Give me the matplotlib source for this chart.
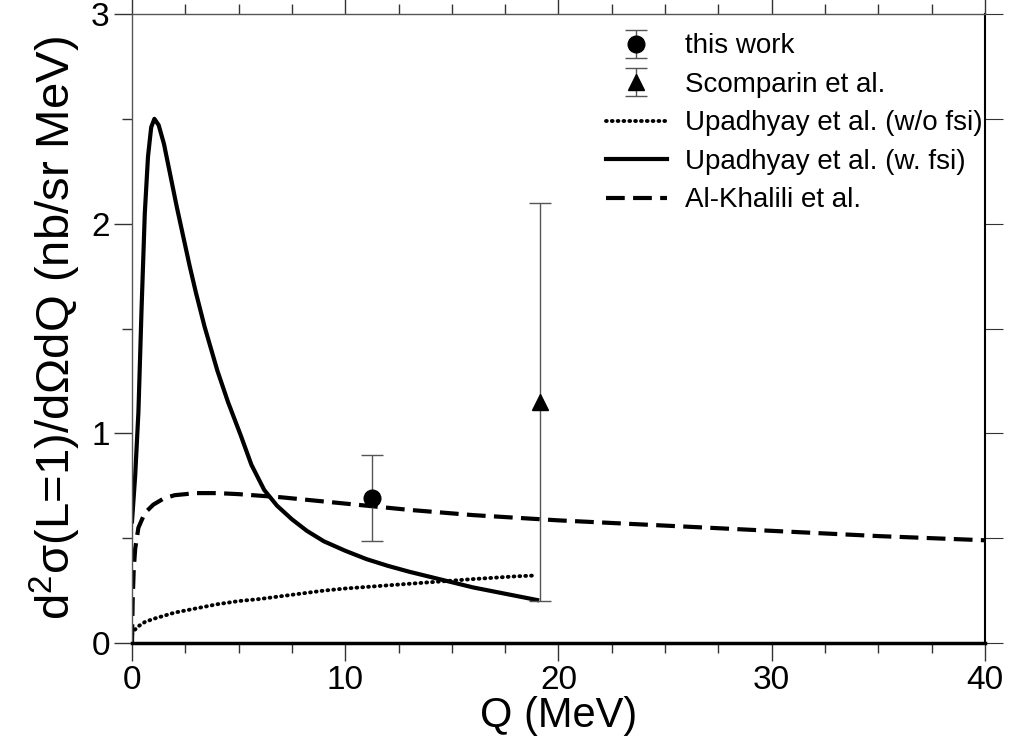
import matplotlib
matplotlib.use("Agg")
import matplotlib.pyplot as plt
from matplotlib.ticker import MultipleLocator

plt.rcParams['font.family'] = ['Liberation Sans', 'DejaVu Sans']

# data
q_fsi = [0.0, 0.15, 0.3, 0.45, 0.6, 0.75, 0.9, 1.05, 1.25, 1.5, 1.8, 2.1, 2.4, 2.7, 3.0,
         3.4, 4.0, 4.5, 5.1, 5.6, 6.2, 6.8, 7.5, 8.2, 9.0, 10.0, 11.0, 12.0, 13.0, 14.0,
         15.0, 16.0, 17.0, 18.0, 19.0]
s_fsi = [0.58, 0.8, 1.1, 1.6, 2.05, 2.32, 2.46, 2.5, 2.47, 2.38, 2.23, 2.08, 1.94, 1.8,
         1.67, 1.51, 1.3, 1.15, 0.99, 0.85, 0.73, 0.655, 0.59, 0.535, 0.485, 0.44, 0.40,
         0.368, 0.34, 0.315, 0.29, 0.265, 0.245, 0.225, 0.205]

q_nofsi = [0.0, 0.1, 0.3, 0.6, 1.0, 1.5, 2.0, 3.0, 4.0, 5.0, 6.0, 7.5, 9.0, 10.0, 12.0,
           14.0, 16.0, 18.0, 18.9]
s_nofsi = [0.04, 0.06, 0.08, 0.1, 0.115, 0.13, 0.145, 0.165, 0.185, 0.2, 0.21, 0.23,
           0.25, 0.26, 0.275, 0.29, 0.305, 0.318, 0.322]

q_ak = [0.0, 0.03, 0.08, 0.15, 0.3, 0.6, 1.0, 1.5, 2.0, 3.0, 4.0, 5.0, 7.0, 10.0, 13.0,
        16.0, 20.0, 25.0, 30.0, 35.0, 40.0]
s_ak = [0.0, 0.2, 0.35, 0.45, 0.55, 0.62, 0.66, 0.69, 0.705, 0.715, 0.715, 0.71, 0.695,
        0.665, 0.635, 0.61, 0.585, 0.56, 0.535, 0.51, 0.49]

q_this, s_this, e_this = [11.25], [0.69], [0.205]
q_scomp, s_scomp, e_scomp = [19.15], [1.15], [0.95]

fig = plt.figure(figsize=(10.1, 7.49), dpi=100)
ax = fig.add_axes([0.1307, 0.1415, 0.8445, 0.8398])

h1 = ax.errorbar(q_this, s_this, yerr=e_this, fmt='o', color='black', ms=12,
                 ecolor='#555555', elinewidth=1, capsize=8, capthick=1, label='this work', zorder=5)
h2 = ax.errorbar(q_scomp, s_scomp, yerr=e_scomp, fmt='^', color='black', ms=11,
                 ecolor='#555555', elinewidth=1, capsize=8, capthick=1, label='Scomparin et al.', zorder=5)
h3, = ax.plot(q_nofsi, s_nofsi, color='black', lw=2.8, linestyle=(0, (0.2, 1.3)),
              dash_capstyle='round', label='Upadhyay et al. (w/o fsi)')
h4, = ax.plot(q_fsi, s_fsi, color='black', lw=3, label='Upadhyay et al. (w. fsi)')
h5, = ax.plot(q_ak, s_ak, color='black', lw=3, linestyle=(0, (4.5, 2)),
              label='Al-Khalili et al.')

ax.set_xlim(0, 40)
ax.set_ylim(0, 3)
ax.xaxis.set_major_locator(MultipleLocator(10))
ax.xaxis.set_minor_locator(MultipleLocator(2.5))
ax.yaxis.set_major_locator(MultipleLocator(1))
ax.yaxis.set_minor_locator(MultipleLocator(0.5))
ax.tick_params(which='both', direction='out', top=True, right=False, colors='#333333',
               labelcolor='black', labelsize=24, width=1, pad=3)
ax.tick_params(which='major', length=13)
ax.tick_params(which='minor', length=7)

sec = ax.secondary_yaxis('right')
sec.yaxis.set_major_locator(MultipleLocator(0.5))
sec.tick_params(direction='out', length=13, labelright=False, colors='#333333')
sec.spines['right'].set_linewidth(1.5)
sec.spines['right'].set_color('black')

for s in ['left', 'top']:
    ax.spines[s].set_color('#555555')
    ax.spines[s].set_linewidth(1)
ax.spines['right'].set_visible(False)
ax.spines['bottom'].set_linewidth(2.5)

ax.set_xlabel('Q (MeV)', fontsize=30, labelpad=0)
ax.set_ylabel(r'd$^{\mathregular{2}}$σ(L=1)/dΩdQ (nb/sr MeV)', fontsize=34, labelpad=6)

ax.legend([h1, h2, h3, h4, h5], [h.get_label() for h in [h1, h2, h3, h4, h5]],
          loc='upper right', bbox_to_anchor=(1.02, 1.0), frameon=False, fontsize=20,
          handlelength=2.2, handletextpad=0.65, labelspacing=0.45, borderpad=0.2)

fig.savefig('out.png', dpi=100)
